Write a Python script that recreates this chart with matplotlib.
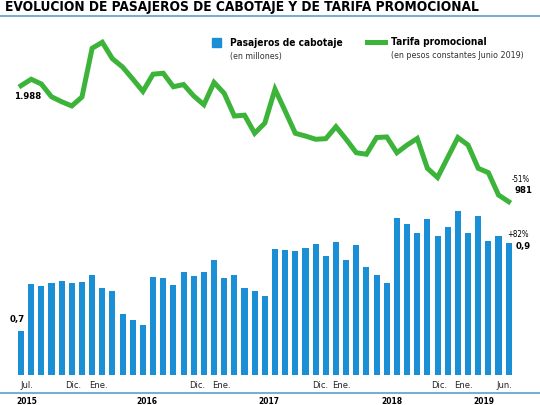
import numpy as np
import matplotlib
matplotlib.use("Agg")
import matplotlib.pyplot as plt
from matplotlib.lines import Line2D
from matplotlib import font_manager

# monthly data, Jul 2015 .. Jul 2019 (49 months)
pasajeros = [0.700, 0.807, 0.802, 0.808, 0.813, 0.810, 0.812, 0.828, 0.797, 0.792,
             0.738, 0.725, 0.714, 0.823, 0.820, 0.804, 0.835, 0.826, 0.834, 0.861,
             0.820, 0.827, 0.797, 0.791, 0.779, 0.887, 0.885, 0.882, 0.889, 0.897,
             0.870, 0.902, 0.861, 0.895, 0.845, 0.827, 0.810, 0.957, 0.944, 0.923,
             0.955, 0.917, 0.936, 0.972, 0.922, 0.962, 0.904, 0.917, 0.901]
tarifa = [1988, 2044, 2003, 1892, 1849, 1812, 1890, 2313, 2365, 2222,
          2150, 2046, 1939, 2088, 2096, 1979, 1998, 1899, 1823, 2016,
          1922, 1725, 1732, 1575, 1664, 1957, 1768, 1575, 1551, 1523,
          1528, 1632, 1523, 1406, 1393, 1538, 1543, 1406, 1473, 1530,
          1271, 1191, 1365, 1538, 1473, 1271, 1233, 1039, 981]
mes_labels = ["Jul.", "Dic.", "Ene.", "Dic.", "Ene.", "Dic.", "Ene.", "Dic.", "Ene.", "Jun."]
mes_pos = [0.55, 5.1, 7.6, 17.3, 19.7, 29.4, 31.5, 41.2, 43.5, 47.6]
anios = ["2015", "2016", "2017", "2018", "2019"]
anio_pos = [0.6, 12.4, 24.4, 36.5, 45.6]

BLUE = "#1a8fd6"
GREEN = "#3cb43a"

# look for a narrow face, otherwise Roboto
FAM, STRETCH = "Roboto", "normal"
for f in font_manager.fontManager.ttflist:
    if "Narrow" in f.name or "Condensed" in f.name or "Condensed" in f.fname:
        FAM, STRETCH = f.name, f.stretch
        break
FONT = dict(family=[FAM, "DejaVu Sans"], stretch=STRETCH)

fig = plt.figure(figsize=(5.4, 4.05), dpi=100)
W, H = 540, 405
renderer = fig.canvas.get_renderer()


def fit(texts, target, ref=0):
    # one font size for the group, so texts[ref] is about target px wide
    w = texts[ref].get_window_extent(renderer).width
    if w > 0:
        size = texts[ref].get_fontsize() * target / w
        for t in texts:
            t.set_fontsize(size)
    return texts


ax = fig.add_axes([0, 30 / H, 1, 375 / H])
x = np.arange(len(pasajeros))
ax.bar(x, pasajeros, width=0.6, color=BLUE)
ax.set_xlim(-21 / 10.16, (W - 21) / 10.16)
ax.set_ylim(0.6, 0.6 + 375 / 440)
ax.axis("off")

ax2 = ax.twinx()
ax2.plot(x, tarifa, color=GREEN, lw=3.6, solid_joinstyle="miter")
ax2.set_ylim(-523.5, 2732)
ax2.set_xlim(ax.get_xlim())
ax2.axis("off")

# annotations
bold_nums = [
    ax2.text(-0.65, tarifa[0] - 95, "1.988", fontsize=8, fontweight="bold",
             ha="left", va="center", **FONT),
    ax2.text(x[-1] + 0.55, tarifa[-1] + 100, "981", fontsize=8, fontweight="bold",
             ha="left", va="center", **FONT),
    ax.text(x[-1] + 0.7, pasajeros[-1] - 0.01, "0,9", fontsize=8, fontweight="bold",
            ha="left", va="center", **FONT),
    ax.text(-1.15, pasajeros[0] + 0.025, "0,7", fontsize=8, fontweight="bold",
            ha="left", va="center", **FONT),
]
fit(bold_nums, 27)
pcts = [
    ax.text(x[-1] - 0.1, pasajeros[-1] + 0.019, "+82%", fontsize=7,
            ha="left", va="center", **FONT),
    ax2.text(x[-1] + 0.25, tarifa[-1] + 195, "-51%", fontsize=7,
             ha="left", va="center", **FONT),
]
fit(pcts, 22)

# month labels
meses = [ax.text(p, 0.6 - 11 / 440, lab, fontsize=8, color="#222222",
                 ha="center", va="center", clip_on=False, **FONT)
         for lab, p in zip(mes_labels, mes_pos)]
fit(meses, 18.5, ref=2)

# bottom rule and years
fig.add_artist(Line2D([0, 1], [1 - 392.5 / H] * 2, color="#5aa0d0", lw=1.2))
years = [ax.text(p, 0.6 - 26.5 / 440, lab, fontsize=7.5, fontweight="bold",
                 ha="center", va="center", clip_on=False, **FONT)
         for lab, p in zip(anios, anio_pos)]
fit(years, 21)

# title and top rule
fit([fig.text(5 / W, 1 - 7 / H, "EVOLUCION DE PASAJEROS DE CABOTAJE Y DE TARIFA PROMOCIONAL",
              fontsize=12, fontweight="bold", ha="left", va="center", **FONT)], 473)
fig.add_artist(Line2D([0, 1], [1 - 15.5 / H] * 2, color="#5aa0d0", lw=1.2))

# legend
fig.patches.append(plt.Rectangle((212 / W, 1 - 47 / H), 9 / W, 9 / H,
                                 transform=fig.transFigure, color=BLUE))
fig.add_artist(Line2D([367 / W, 385 / W], [1 - 42 / H] * 2, color=GREEN, lw=3.6))
heads = [
    fig.text(230 / W, 1 - 42.5 / H, "Pasajeros de cabotaje", fontsize=9, fontweight="bold",
             ha="left", va="center", **FONT),
    fig.text(391 / W, 1 - 42 / H, "Tarifa promocional", fontsize=9, fontweight="bold",
             ha="left", va="center", **FONT),
]
fit(heads, 113)
subs = [
    fig.text(391 / W, 1 - 56 / H, "(en pesos constantes Junio 2019)", fontsize=6.5,
             color="#333333", ha="left", va="center", **FONT),
    fig.text(230 / W, 1 - 56 / H, "(en millones)", fontsize=6.5,
             color="#333333", ha="left", va="center", **FONT),
]
fit(subs, 133)

fig.savefig("out.png", dpi=100, facecolor="white")
